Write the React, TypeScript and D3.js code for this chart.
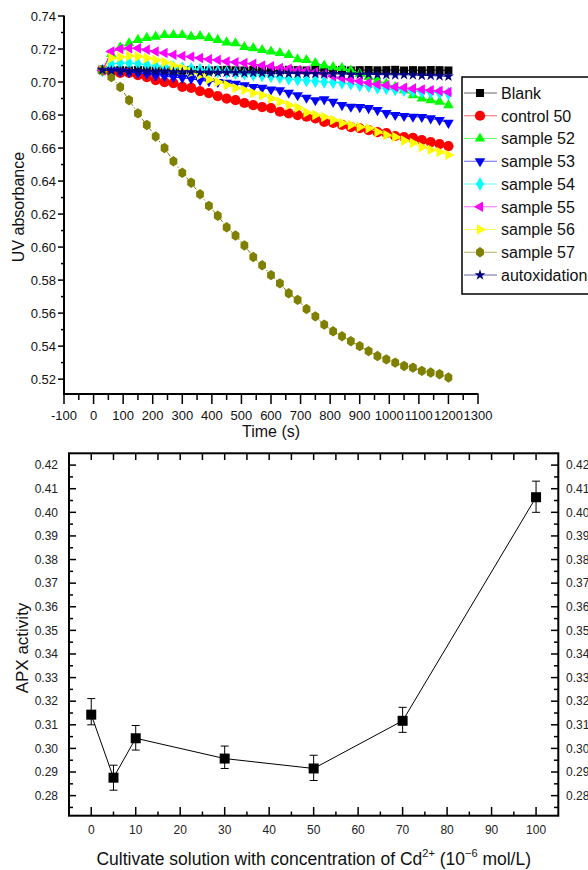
import React from 'react'
import * as d3 from 'd3'

// ── Top chart: UV absorbance vs time ──────────────────────────────────────
const TIME = [
  30, 60, 90, 120, 150, 180, 210, 240, 270, 300, 330, 360, 390, 420, 450, 480, 510, 540, 570, 600,
  630, 660, 690, 720, 750, 780, 810, 840, 870, 900, 930, 960, 990, 1020, 1050, 1080, 1110, 1140, 1170, 1200,
]

const BLANK = [
  0.7075, 0.707, 0.7072, 0.707, 0.7073, 0.7071, 0.707, 0.7074, 0.7072, 0.707, 0.7071, 0.7073, 0.707, 0.7072,
  0.7074, 0.7071, 0.707, 0.7073, 0.7072, 0.707, 0.7071, 0.7074, 0.7072, 0.707, 0.7073, 0.7071, 0.7072, 0.7074,
  0.707, 0.7072, 0.7073, 0.7071, 0.7072, 0.7074, 0.707, 0.7072, 0.7071, 0.7073, 0.7072, 0.707,
]
const CONTROL_50 = [
  0.707, 0.706, 0.7055, 0.7055, 0.7042, 0.703, 0.7012, 0.7, 0.6994, 0.697, 0.6964, 0.6945, 0.6933, 0.6915,
  0.69, 0.689, 0.6873, 0.686, 0.6848, 0.6842, 0.682, 0.681, 0.68, 0.679, 0.678, 0.6758, 0.6752, 0.674,
  0.6727, 0.672, 0.6709, 0.6697, 0.669, 0.6673, 0.6667, 0.6662, 0.6648, 0.6636, 0.6624, 0.6612,
]
const SAMPLE_52 = [
  0.707, 0.717, 0.721, 0.7235, 0.7255, 0.7267, 0.7275, 0.7285, 0.7285, 0.7285, 0.7275, 0.7278, 0.7267, 0.7255,
  0.724, 0.7235, 0.7212, 0.7205, 0.7194, 0.7185, 0.7176, 0.7164, 0.7138, 0.7133, 0.7115, 0.71, 0.709, 0.7085,
  0.707, 0.705, 0.703, 0.701, 0.699, 0.697, 0.695, 0.692, 0.69, 0.689, 0.688, 0.686,
]
const SAMPLE_53 = [
  0.707, 0.707, 0.7065, 0.706, 0.7055, 0.705, 0.704, 0.7035, 0.703, 0.7025, 0.702, 0.701, 0.7005, 0.7,
  0.6995, 0.699, 0.698, 0.697, 0.6965, 0.6955, 0.695, 0.6935, 0.692, 0.6905, 0.689, 0.6895, 0.688, 0.686,
  0.685, 0.6848, 0.6842, 0.683, 0.6812, 0.68, 0.6794, 0.679, 0.6788, 0.678, 0.677, 0.6753,
]
const SAMPLE_54 = [
  0.707, 0.711, 0.7115, 0.7115, 0.711, 0.7105, 0.71, 0.7095, 0.709, 0.7085, 0.708, 0.7075, 0.707, 0.7065,
  0.706, 0.7055, 0.705, 0.7045, 0.704, 0.7035, 0.7028, 0.702, 0.7015, 0.701, 0.7005, 0.7, 0.6998, 0.6995,
  0.699, 0.698, 0.6975, 0.6965, 0.6962, 0.6955, 0.695, 0.6945, 0.694, 0.6938, 0.6935, 0.693,
]
const SAMPLE_55 = [
  0.707, 0.7185, 0.72, 0.7204, 0.7204, 0.7195, 0.7185, 0.7176, 0.7165, 0.7158, 0.7153, 0.7145, 0.7138, 0.7133,
  0.7125, 0.712, 0.7115, 0.711, 0.71, 0.7095, 0.7085, 0.708, 0.7073, 0.707, 0.706, 0.705, 0.7035, 0.7025,
  0.7015, 0.7005, 0.6995, 0.6985, 0.698, 0.697, 0.6965, 0.696, 0.6955, 0.695, 0.6945, 0.694,
]
const SAMPLE_56 = [
  0.707, 0.7145, 0.7152, 0.7158, 0.7155, 0.7145, 0.7133, 0.712, 0.71, 0.7085, 0.706, 0.7042, 0.7015, 0.7,
  0.6982, 0.6964, 0.6952, 0.6933, 0.692, 0.69, 0.688, 0.686, 0.6845, 0.6815, 0.68, 0.6788, 0.677, 0.6752,
  0.674, 0.6727, 0.672, 0.6697, 0.6679, 0.6667, 0.6645, 0.663, 0.6606, 0.659, 0.6576, 0.6558,
]
const SAMPLE_57 = [
  0.707, 0.703, 0.697, 0.689, 0.681, 0.674, 0.667, 0.66, 0.652, 0.645, 0.639, 0.632, 0.625, 0.619,
  0.612, 0.607, 0.601, 0.594, 0.589, 0.583, 0.578, 0.572, 0.568, 0.5625, 0.558, 0.553, 0.549, 0.546,
  0.543, 0.54, 0.537, 0.534, 0.532, 0.53, 0.528, 0.527, 0.525, 0.524, 0.523, 0.521,
]
const AUTOXIDATION = [
  0.7072, 0.707, 0.7066, 0.7065, 0.7066, 0.7063, 0.7062, 0.7063, 0.706, 0.7061, 0.706, 0.7058, 0.7059, 0.7057,
  0.7058, 0.7056, 0.7055, 0.7056, 0.7054, 0.7053, 0.7054, 0.7052, 0.7051, 0.7052, 0.705, 0.7049, 0.705, 0.7048,
  0.7047, 0.7046, 0.7047, 0.7045, 0.7044, 0.7043, 0.7044, 0.7042, 0.704, 0.7039, 0.7037, 0.7034,
]

const SERIES_NAMES = ['Blank', 'control 50', 'sample 52', 'sample 53', 'sample 54', 'sample 55', 'sample 56', 'sample 57', 'autoxidation']
const SERIES_VALUES = [BLANK, CONTROL_50, SAMPLE_52, SAMPLE_53, SAMPLE_54, SAMPLE_55, SAMPLE_56, SAMPLE_57, AUTOXIDATION]
const SERIES_COLORS = ['#000000', '#FF0000', '#00FF00', '#0000FF', '#00FFFF', '#FF00FF', '#FFFF00', '#808000', '#000080']

const TIME_TICKS = [-100, 0, 100, 200, 300, 400, 500, 600, 700, 800, 900, 1000, 1100, 1200, 1300]
const ABS_TICKS = [0.52, 0.54, 0.56, 0.58, 0.6, 0.62, 0.64, 0.66, 0.68, 0.7, 0.72, 0.74]

// ── Bottom chart: APX activity ────────────────────────────────────────────
const CD_CONC = [0, 5, 10, 30, 50, 70, 100]
const APX = [0.3143, 0.2876, 0.3043, 0.2957, 0.2915, 0.3117, 0.4064]
const APX_HI = [0.3211, 0.2929, 0.3097, 0.301, 0.2971, 0.3174, 0.4132]
const APX_LO = [0.31, 0.2823, 0.2993, 0.2915, 0.2864, 0.3068, 0.4]
const CD_TICKS = [0, 10, 20, 30, 40, 50, 60, 70, 80, 90, 100]
const APX_TICKS = [0.28, 0.29, 0.3, 0.31, 0.32, 0.33, 0.34, 0.35, 0.36, 0.37, 0.38, 0.39, 0.4, 0.41, 0.42]

const FONT = '"Liberation Sans", Arial, sans-serif'

const xT = d3.scaleLinear().domain([-100, 1300]).range([64, 478])
const yT = d3.scaleLinear().domain([0.511, 0.74]).range([394, 16])
const xB = d3.scaleLinear().domain([-5, 105]).range([69, 558.3])
const yB = d3.scaleLinear().domain([0.2715, 0.425]).range([815.7, 453.3])

const tri = d3.symbol(d3.symbolTriangle, 48)()
const hexagon = 'M0,-5.2L3.9,-2.6L3.9,2.6L0,5.2L-3.9,2.6L-3.9,-2.6Z'
const MARKERS = [
  { d: d3.symbol(d3.symbolSquare, 64)(), rot: 0 },
  { d: d3.symbol(d3.symbolCircle, 82)(), rot: 0 },
  { d: tri, rot: 0 },
  { d: tri, rot: 180 },
  { d: d3.symbol(d3.symbolDiamond, 54)(), rot: 0 },
  { d: tri, rot: -90 },
  { d: tri, rot: 90 },
  { d: hexagon, rot: 0 },
  { d: d3.symbol(d3.symbolStar, 38)(), rot: 0 },
]

function Marker({ i, x, y }: { i: number; x: number; y: number }) {
  const m = MARKERS[i]
  return <path d={m.d} transform={`translate(${x},${y}) rotate(${m.rot})`} fill={SERIES_COLORS[i]} />
}

function TopChart() {
  const line = d3.line<number>().x((_, j) => xT(TIME[j])).y((v) => yT(v))
  const minorX = d3.range(-50, 1300, 100)
  const minorY = d3.range(0.53, 0.74, 0.02)
  return (
    <g>
      {SERIES_VALUES.map((vals, i) => (
        <g key={SERIES_NAMES[i]}>
          <path d={line(vals) || ''} fill="none" stroke={SERIES_COLORS[i]} strokeWidth={1}
            strokeDasharray={i === 7 ? '5,2,1.5,2' : undefined} />
          {vals.map((v, j) => <Marker key={j} i={i} x={xT(TIME[j])} y={yT(v)} />)}
        </g>
      ))}

      {/* axes */}
      <line x1={64} x2={64} y1={15.5} y2={394} stroke="#000" strokeWidth={2} />
      <line x1={63} x2={478.5} y1={394} y2={394} stroke="#000" strokeWidth={2} />
      {ABS_TICKS.map((t) => (
        <g key={t}>
          <line x1={58} x2={64} y1={yT(t)} y2={yT(t)} stroke="#000" strokeWidth={1.5} />
          <text x={56} y={yT(t)} dy="0.35em" textAnchor="end" fontSize={13} fontFamily={FONT} fill="#111">
            {t.toFixed(2)}
          </text>
        </g>
      ))}
      {minorY.map((t) => (
        <line key={t} x1={61} x2={64} y1={yT(t)} y2={yT(t)} stroke="#000" strokeWidth={1.5} />
      ))}
      {TIME_TICKS.map((t) => (
        <g key={t}>
          <line x1={xT(t)} x2={xT(t)} y1={394} y2={404} stroke="#000" strokeWidth={1.5} />
          <text x={xT(t)} y={420} textAnchor="middle" fontSize={13} fontFamily={FONT} fill="#111">{t}</text>
        </g>
      ))}
      {minorX.map((t) => (
        <line key={t} x1={xT(t)} x2={xT(t)} y1={394} y2={400} stroke="#000" strokeWidth={1.5} />
      ))}
      <text x={271} y={437} textAnchor="middle" fontSize={16} fontFamily={FONT} fill="#111">Time (s)</text>
      <text transform="translate(24,207) rotate(-90)" textAnchor="middle" fontSize={16} fontFamily={FONT} fill="#111">
        UV absorbance
      </text>

      {/* legend */}
      <rect x={462} y={77} width={140} height={217} fill="#fff" stroke="#000" strokeWidth={1.5} />
      {SERIES_NAMES.map((name, i) => {
        const ly = 93 + i * 22.75
        return (
          <g key={name}>
            <line x1={464} x2={497} y1={ly} y2={ly} stroke={SERIES_COLORS[i]} strokeWidth={1} strokeOpacity={0.6} />
            <Marker i={i} x={480} y={ly} />
            <text x={501} y={ly} dy="0.36em" fontSize={16} fontFamily={FONT} fill="#111">{name}</text>
          </g>
        )
      })}
    </g>
  )
}

function BottomChart() {
  const line = d3.line<number>().x((_, j) => xB(CD_CONC[j])).y((v) => yB(v))
  const minorX = d3.range(-5, 105, 10)
  const allTop = d3.range(-5, 105, 5)
  const minorY = d3.range(0.275, 0.425, 0.01)
  return (
    <g>
      <rect x={69} y={453.3} width={489.3} height={362.4} fill="none" stroke="#000" strokeWidth={2} />
      {APX_TICKS.map((t) => (
        <g key={t}>
          <line x1={69} x2={76} y1={yB(t)} y2={yB(t)} stroke="#000" strokeWidth={1.5} />
          <line x1={551} x2={558} y1={yB(t)} y2={yB(t)} stroke="#000" strokeWidth={1.5} />
          <text x={58} y={yB(t)} dy="0.35em" textAnchor="end" fontSize={12} fontFamily={FONT} fill="#222">
            {t.toFixed(2)}
          </text>
          <text x={566} y={yB(t)} dy="0.35em" fontSize={12} fontFamily={FONT} fill="#222">{t.toFixed(2)}</text>
        </g>
      ))}
      {minorY.map((t) => (
        <g key={t}>
          <line x1={69} x2={73} y1={yB(t)} y2={yB(t)} stroke="#000" strokeWidth={1.5} />
          <line x1={554} x2={558} y1={yB(t)} y2={yB(t)} stroke="#000" strokeWidth={1.5} />
        </g>
      ))}
      {CD_TICKS.map((t) => (
        <g key={t}>
          <line x1={xB(t)} x2={xB(t)} y1={807} y2={815.7} stroke="#000" strokeWidth={1.5} />
          <text x={xB(t)} y={834} textAnchor="middle" fontSize={12} fontFamily={FONT} fill="#222">{t}</text>
        </g>
      ))}
      {minorX.map((t) => (
        <line key={t} x1={xB(t)} x2={xB(t)} y1={811.5} y2={815.7} stroke="#000" strokeWidth={1.5} />
      ))}
      {allTop.map((t) => (
        <line key={t} x1={xB(t)} x2={xB(t)} y1={453.3} y2={460} stroke="#000" strokeWidth={1.5} />
      ))}

      <path d={line(APX) || ''} fill="none" stroke="#000" strokeWidth={1} />
      {APX.map((v, j) => {
        const x = xB(CD_CONC[j])
        return (
          <g key={j}>
            <line x1={x} x2={x} y1={yB(APX_HI[j])} y2={yB(APX_LO[j])} stroke="#000" strokeWidth={1} />
            <line x1={x - 4} x2={x + 4} y1={yB(APX_HI[j])} y2={yB(APX_HI[j])} stroke="#000" strokeWidth={1} />
            <line x1={x - 4} x2={x + 4} y1={yB(APX_LO[j])} y2={yB(APX_LO[j])} stroke="#000" strokeWidth={1} />
            <rect x={x - 5} y={yB(v) - 5} width={10} height={10} fill="#000" />
          </g>
        )
      })}

      <text transform="translate(28,648) rotate(-90)" textAnchor="middle" fontSize={17} fontFamily={FONT} fill="#111">
        APX activity
      </text>
      <text x={313.7} y={865} textAnchor="middle" fontSize={17.5} fontFamily={FONT} fill="#111">
        Cultivate solution with concentration of Cd
        <tspan fontSize={11} dy={-8}>2+</tspan>
        <tspan dy={8}> (10</tspan>
        <tspan fontSize={11} dy={-8}>−6</tspan>
        <tspan dy={8}> mol/L)</tspan>
      </text>
    </g>
  )
}

export default function App() {
  return (
    <div style={{ position: 'absolute', left: 0, top: 0 }}>
      <svg width={588} height={870} style={{ display: 'block', background: '#fff' }}>
        <TopChart />
        <BottomChart />
      </svg>
    </div>
  )
}
